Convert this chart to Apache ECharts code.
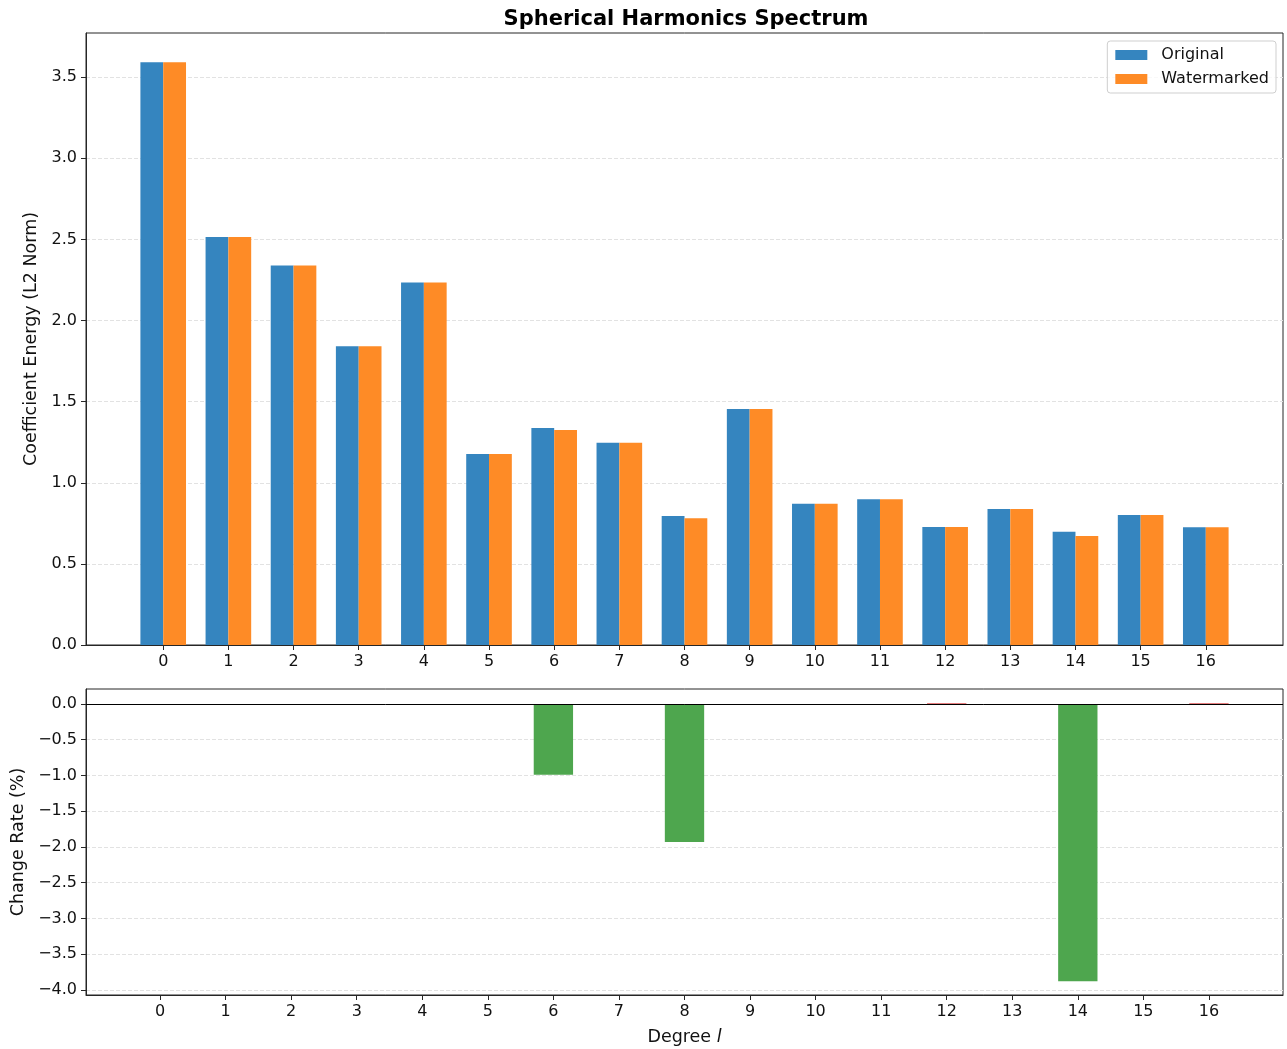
<!DOCTYPE html>
<html>
<head>
<meta charset="utf-8">
<title>Spherical Harmonics Spectrum</title>
<script src="https://cdn.jsdelivr.net/npm/echarts@6/dist/echarts.min.js"></script>
<style>
  html, body { margin: 0; padding: 0; background: #fff; }
  #chart { width: 1287px; height: 1049px; }
</style>
</head>
<body>
<div id="chart"></div>
<script>
// Spherical harmonic degrees l
const degrees = [0, 1, 2, 3, 4, 5, 6, 7, 8, 9, 10, 11, 12, 13, 14, 15, 16];

// Coefficient energy (L2 norm) per degree
const original    = [3.592, 2.514, 2.339, 1.842, 2.235, 1.177, 1.337, 1.246, 0.795, 1.454, 0.871, 0.898, 0.727, 0.838, 0.698, 0.801, 0.725];
const watermarked = [3.592, 2.514, 2.339, 1.842, 2.235, 1.177, 1.325, 1.246, 0.781, 1.454, 0.871, 0.898, 0.727, 0.838, 0.672, 0.801, 0.725];

// Relative change of energy per degree, in percent
const changeRate  = [0, 0, 0, 0, 0, 0, -0.99, 0, -1.93, 0, 0, 0, 0.01, 0, -3.88, 0, 0.01];

// Tick values
const energyTicks = [0, 0.5, 1.0, 1.5, 2.0, 2.5, 3.0, 3.5];
const changeTicks = [0, -0.5, -1.0, -1.5, -2.0, -2.5, -3.0, -3.5, -4.0];

const FONT = 'DejaVu Sans';
const INK = '#111';
const SPINE = '#262626';
const TICK_SIZE = 16;
const NAME_SIZE = 17.5;
const GRID_LINE = { show: true, lineStyle: { color: '#e2e2e2', width: 1, type: [4, 2] } };

const fmt = v => (Math.abs(v) < 1e-9 ? 0 : v).toFixed(1).replace('-', '\u2212');

// Rectangle bar drawn through the axis scales: centred at x + offset, given width in data units
function barRenderer(offset, width) {
  return function (params, api) {
    const x = api.value(0) + offset;
    const y = api.value(1);
    const a = api.coord([x - width / 2, 0]);
    const b = api.coord([x + width / 2, y]);
    return {
      type: 'rect',
      shape: {
        x: a[0],
        y: Math.min(a[1], b[1]),
        width: b[0] - a[0],
        height: Math.abs(b[1] - a[1])
      },
      style: { fill: api.visual('color') }
    };
  };
}

function xAxisFor(gridIndex, lo, hi, extra) {
  return Object.assign({
    type: 'value',
    gridIndex: gridIndex,
    min: lo,
    max: hi,
    axisLine: { show: true, onZero: false, lineStyle: { color: SPINE, width: 1 } },
    axisTick: { show: true, length: 5, lineStyle: { color: SPINE }, customValues: degrees },
    axisLabel: { show: true, margin: 9, color: INK, fontSize: TICK_SIZE, fontFamily: FONT, customValues: degrees, formatter: v => String(v) },
    splitLine: { show: false }
  }, extra || {});
}

function yAxisFor(gridIndex, lo, hi, ticks, name, gap) {
  return {
    type: 'value',
    gridIndex: gridIndex,
    min: lo,
    max: hi,
    name: name,
    nameLocation: 'middle',
    nameRotate: 90,
    nameGap: gap,
    nameTextStyle: { fontFamily: FONT, fontSize: NAME_SIZE, color: INK },
    axisLine: { show: true, onZero: false, lineStyle: { color: SPINE, width: 1 } },
    axisTick: { show: true, length: 5, lineStyle: { color: SPINE }, customValues: ticks },
    axisLabel: { margin: 9, color: INK, fontSize: TICK_SIZE, fontFamily: FONT, customValues: ticks, formatter: fmt },
    splitLine: GRID_LINE
  };
}

const chart = echarts.init(document.getElementById('chart'), null, { renderer: 'canvas' });

const option = {
  animation: false,
  backgroundColor: '#fff',
  textStyle: { fontFamily: FONT },
  title: {
    text: 'Spherical Harmonics Spectrum',
    left: 681,
    top: 4,
    textAlign: 'center',
    textStyle: { fontFamily: FONT, fontSize: 21, fontWeight: 'bold', color: '#000' }
  },
  legend: {
    orient: 'vertical',
    right: 11,
    top: 41,
    icon: 'rect',
    itemWidth: 32,
    itemHeight: 10,
    itemGap: 6,
    padding: [5, 7, 5, 8],
    borderColor: '#cfcfcf',
    borderWidth: 1,
    borderRadius: 3,
    backgroundColor: 'rgba(255,255,255,0.8)',
    textStyle: { fontFamily: FONT, fontSize: 16, color: INK, lineHeight: 18, padding: [0, 0, 0, 9] },
    data: ['Original', 'Watermarked']
  },
  grid: [
    { left: 86, right: 4, top: 33, bottom: 404, show: true, borderColor: SPINE, borderWidth: 1, backgroundColor: 'transparent' },
    { left: 86, right: 4, top: 689, bottom: 54, show: true, borderColor: SPINE, borderWidth: 1, backgroundColor: 'transparent' }
  ],
  xAxis: [
    xAxisFor(0, -1.185, 17.185),
    xAxisFor(1, -1.13, 17.13, {
      name: '{n|Degree }{i|l}',
      nameLocation: 'middle',
      nameGap: 33,
      nameTextStyle: {
        rich: {
          n: { fontFamily: FONT, fontSize: NAME_SIZE, color: INK },
          i: { fontFamily: FONT, fontSize: NAME_SIZE, color: INK, fontStyle: 'italic' }
        }
      }
    })
  ],
  yAxis: [
    yAxisFor(0, 0, 3.772, energyTicks, 'Coefficient Energy (L2 Norm)', 42),
    yAxisFor(1, -4.072, 0.21, changeTicks, 'Change Rate (%)', 55)
  ],
  series: [
    {
      name: 'Original',
      type: 'custom',
      xAxisIndex: 0,
      yAxisIndex: 0,
      itemStyle: { color: '#3585bf' },
      encode: { x: 0, y: 1 },
      renderItem: barRenderer(-0.175, 0.35),
      data: degrees.map((d, i) => [d, original[i]])
    },
    {
      name: 'Watermarked',
      type: 'custom',
      xAxisIndex: 0,
      yAxisIndex: 0,
      itemStyle: { color: '#fe8b26' },
      encode: { x: 0, y: 1 },
      renderItem: barRenderer(0.175, 0.35),
      data: degrees.map((d, i) => [d, watermarked[i]])
    },
    {
      name: 'Change Rate',
      type: 'custom',
      xAxisIndex: 1,
      yAxisIndex: 1,
      encode: { x: 0, y: 1 },
      renderItem: barRenderer(0, 0.6),
      data: degrees.map((d, i) => ({
        value: [d, changeRate[i]],
        itemStyle: { color: changeRate[i] < 0 ? '#4ea64e' : '#de5253' }
      })),
      markLine: {
        silent: true,
        symbol: 'none',
        label: { show: false },
        lineStyle: { color: '#000', width: 1, type: 'solid' },
        data: [{ yAxis: 0 }]
      }
    }
  ]
};

chart.setOption(option);
</script>
</body>
</html>
